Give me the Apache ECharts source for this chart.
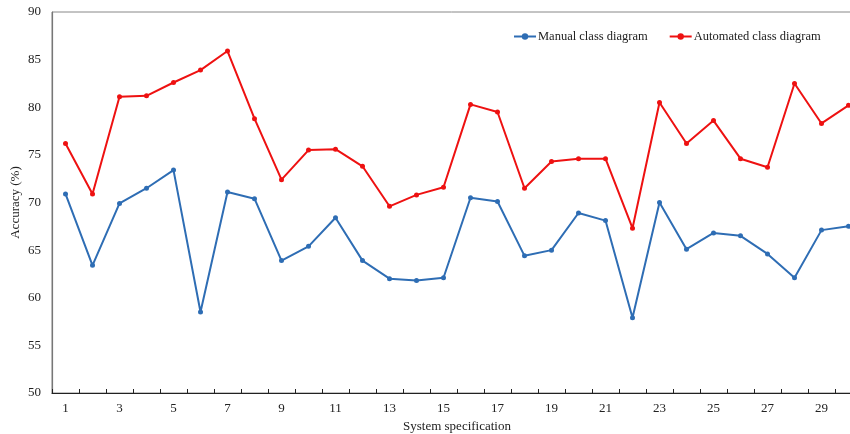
<!DOCTYPE html>
<html>
<head>
<meta charset="utf-8">
<script src="https://cdn.jsdelivr.net/npm/echarts@6/dist/echarts.min.js"></script>
<style>
  html, body { margin: 0; padding: 0; background: #fff; }
  #chart { width: 850px; height: 434px; }
</style>
</head>
<body>
<div id="chart"></div>
<script>
// System specifications 1..30
const categories = Array.from({ length: 30 }, (_, i) => String(i + 1));

// Accuracy (%) per system specification
const manualAccuracy = [
  70.9, 63.4, 69.9, 71.5, 73.4, 58.5, 71.1, 70.4, 63.9, 65.4,
  68.4, 63.9, 62.0, 61.8, 62.1, 70.5, 70.1, 64.4, 65.0, 68.9,
  68.1, 57.9, 70.0, 65.1, 66.8, 66.5, 64.6, 62.1, 67.1, 67.5
];
const automatedAccuracy = [
  76.2, 70.9, 81.1, 81.2, 82.6, 83.9, 85.9, 78.8, 72.4, 75.5,
  75.6, 73.8, 69.6, 70.8, 71.6, 80.3, 79.5, 71.5, 74.3, 74.6,
  74.6, 67.3, 80.5, 76.2, 78.6, 74.6, 73.7, 82.5, 78.3, 80.2
];

const seriesNames = ['Manual class diagram', 'Automated class diagram'];
const seriesColors = ['#2e6db4', '#ee1111'];

const font = '"Liberation Serif", "Times New Roman", serif';

const chart = echarts.init(document.getElementById('chart'));
chart.setOption({
  animation: false,
  textStyle: { fontFamily: font },
  grid: {
    left: 52, top: 12, right: -12, bottom: 41,
    outerBoundsMode: 'none',
    containLabel: false,
    show: true, borderColor: '#888', borderWidth: 1
  },
  legend: {
    left: 508, top: 25,
    itemWidth: 22, itemHeight: 8, itemGap: 21,
    textStyle: { fontFamily: font, fontSize: 12.5, color: '#222', padding: [0, 0, 0, -3] },
    data: seriesNames
  },
  xAxis: {
    type: 'category',
    data: categories,
    boundaryGap: true,
    name: 'System specification',
    nameLocation: 'middle',
    nameGap: 26,
    nameTextStyle: { fontFamily: font, fontSize: 13, color: '#222' },
    axisLine: { lineStyle: { color: '#222', width: 1.2 } },
    axisTick: { show: true, inside: true, length: 4, interval: 0, lineStyle: { color: '#222' } },
    axisLabel: { interval: 1, margin: 9, fontFamily: font, fontSize: 13, color: '#222' },
    splitLine: { show: false }
  },
  yAxis: {
    type: 'value',
    min: 50, max: 90, interval: 5,
    name: 'Accuracy (%)',
    nameLocation: 'middle',
    nameGap: 30,
    nameMoveOverlap: false,
    nameRotate: 90,
    nameTextStyle: { fontFamily: font, fontSize: 13, color: '#222' },
    axisLine: { show: true, lineStyle: { color: '#777', width: 1.2 } },
    axisTick: { show: false },
    axisLabel: { margin: 11, fontFamily: font, fontSize: 13, color: '#222' },
    splitLine: { show: false }
  },
  series: [
    {
      name: seriesNames[0],
      type: 'line',
      data: manualAccuracy,
      symbol: 'circle',
      symbolSize: 5,
      itemStyle: { color: seriesColors[0] },
      lineStyle: { color: seriesColors[0], width: 2 }
    },
    {
      name: seriesNames[1],
      type: 'line',
      data: automatedAccuracy,
      symbol: 'circle',
      symbolSize: 5,
      itemStyle: { color: seriesColors[1] },
      lineStyle: { color: seriesColors[1], width: 2 }
    }
  ]
});
</script>
</body>
</html>
